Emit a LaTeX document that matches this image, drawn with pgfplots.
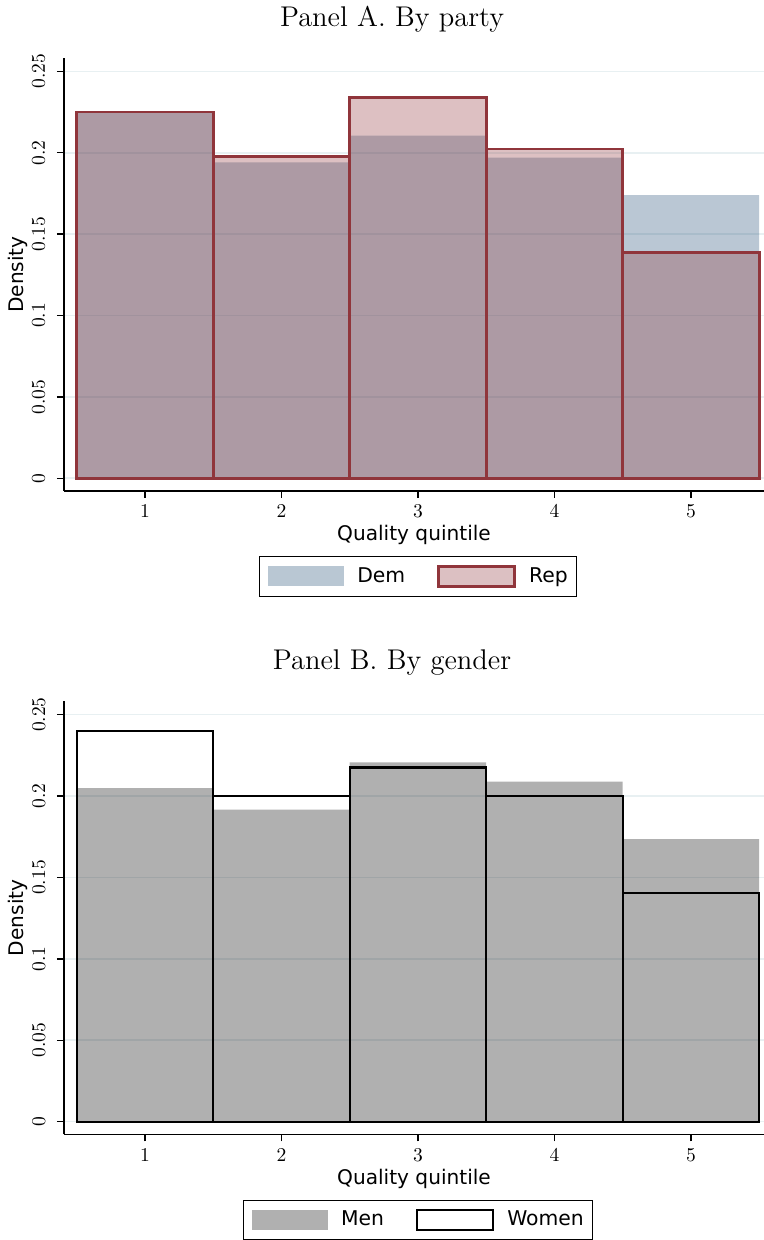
\documentclass[border=0pt]{standalone}
\usepackage{fontspec}
\usepackage{pgfplots}
\pgfplotsset{compat=1.18}
\newfontfamily\dejavu{DejaVu Sans}
\definecolor{navy}{RGB}{26,71,111}
\definecolor{cranberry}{RGB}{144,53,59}
\definecolor{gridc}{RGB}{232,240,242}

\pgfplotsset{
  panel/.style={
    scale only axis, width=350bp, height=216.5bp,
    xmin=0.407, xmax=5.535, ymin=-0.0078, ymax=0.2582,
    axis x line*=bottom, axis y line*=left,
    axis line style={line width=0.7bp, black},
    tick align=outside, major tick length=3.5bp,
    tick style={line width=0.7bp, black},
    xtick={1,2,3,4,5}, xticklabels={1,2,3,4,5},
    ytick={0,0.05,0.1,0.15,0.2,0.25},
    yticklabels={0,0.05,0.1,0.15,0.2,0.25},
    ymajorgrids, grid style={gridc, line width=0.8bp},
    tick label style={font=\fontsize{9.8}{11}\selectfont},
    yticklabel style={xshift=-6bp, rotate=90, anchor=base, inner sep=0pt},
    xticklabel style={yshift=-9.85bp, anchor=base, inner sep=0pt},
    xlabel={Quality quintile}, ylabel={Density},
    every axis x label/.style={at={(axis description cs:0.5,0)}, yshift=-24.85bp,
      anchor=base, inner sep=0pt, font=\dejavu\fontsize{10.1}{12}\selectfont},
    every axis y label/.style={at={(axis description cs:0,0.5)}, xshift=-20.25bp,
      rotate=90, anchor=base, inner sep=0pt, font=\dejavu\fontsize{10.1}{12}\selectfont},
    every axis title/.style={at={(axis description cs:0.4686,1)}, anchor=base, yshift=15.9bp,
      font=\fontsize{14.3}{17}\selectfont},
    legend columns=2,
    legend style={at={(axis description cs:0.5,0)}, anchor=center,
      xshift=2bp, yshift=-42.75bp,
      draw=black, line width=0.6bp, inner xsep=4.5bp, inner ysep=4.25bp,
      font=\dejavu\fontsize{10.2}{12}\selectfont, nodes={inner sep=0pt},
      /tikz/every odd column/.append style={column sep=6.5bp},
      /tikz/every even column/.append style={column sep=16bp}},
  },
  hbar/.style={ybar, bar width=1, bar shift=0pt,
    legend image code/.code={\path[##1] (0bp,-5bp) rectangle (38bp,5bp);}},
}

\begin{document}
\begin{tikzpicture}
\useasboundingbox (0,0) rectangle (382bp,620bp);

% Panel A: distribution of quality quintiles by party
\begin{axis}[panel, at={(32bp,374.5bp)}, anchor=south west, title={Panel A. By party}]
\addplot[hbar, fill=navy, fill opacity=0.3, draw=none]
  coordinates {(1,0.225) (2,0.194) (3,0.2105) (4,0.197) (5,0.174)};
\addlegendentry{Dem}
\addplot[hbar, fill=cranberry, fill opacity=0.31, draw=cranberry, line width=1.45bp]
  coordinates {(1,0.225) (2,0.1975) (3,0.234) (4,0.2023) (5,0.1388)};
\addlegendentry{Rep}
\end{axis}

% Panel B: distribution of quality quintiles by gender
\begin{axis}[panel, at={(32bp,52.85bp)}, anchor=south west, title={Panel B. By gender}]
\addplot[hbar, fill=black, fill opacity=0.31, draw=none]
  coordinates {(1,0.2049) (2,0.1916) (3,0.2206) (4,0.2088) (5,0.1736)};
\addlegendentry{Men}
\addplot[hbar, fill=none, draw=black, line width=1.1bp]
  coordinates {(1,0.240) (2,0.200) (3,0.2175) (4,0.1998) (5,0.1403)};
\addlegendentry{Women}
\end{axis}
\end{tikzpicture}
\end{document}
